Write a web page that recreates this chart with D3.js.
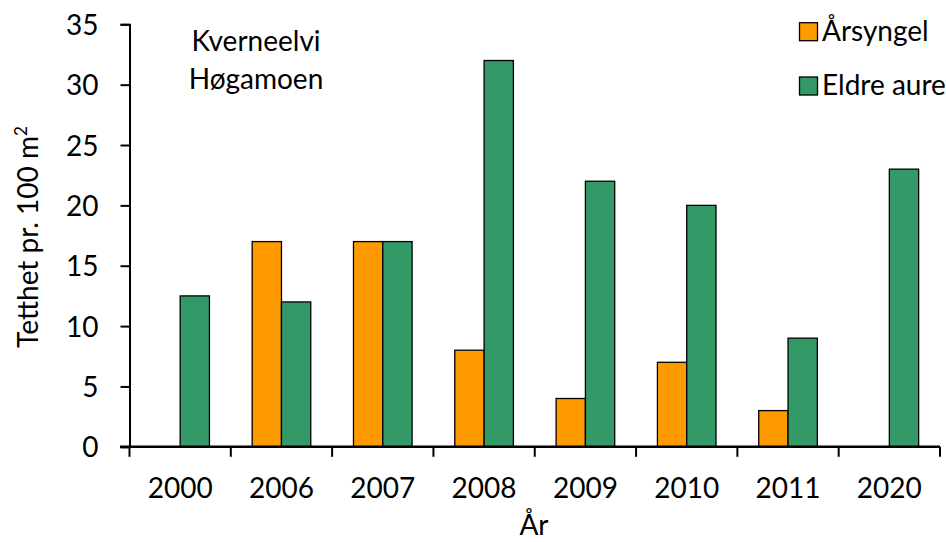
<!DOCTYPE html>
<html><head><meta charset="utf-8">
<script src="https://cdn.jsdelivr.net/npm/d3@7"></script>
<style>
body{margin:0;background:#fff;}
svg{display:block;font-family:Lato,"Open Sans",sans-serif;}
</style></head>
<body><svg id="c" width="946" height="542"></svg>
<script>
const years = ["2000","2006","2007","2008","2009","2010","2011","2020"];
const arsyngel = [null,17,17,8,4,7,3,null];
const eldreAure = [12.5,12,17,32,22,20,9,23];
const seriesNames = ["Årsyngel","Eldre aure"];
const seriesColors = ["#FF9900","#339966"];
const yTicks = [0,5,10,15,20,25,30,35];

const FS = 28;
const svg = d3.select("#c");
const m = {left:129.5, right:940, top:24.3, bottom:446.8};
const x = d3.scaleBand().domain(years).range([m.left,m.right]).paddingInner(0).paddingOuter(0);
const y = d3.scaleLinear().domain([0,35]).range([m.bottom,m.top]);
const barW = 29.3;

const series = [arsyngel, eldreAure];
series.forEach((vals,si)=>{
  svg.append("g").selectAll("rect").data(years.map((yr,i)=>({yr,v:vals[i]})).filter(d=>d.v!=null))
    .join("rect")
    .attr("x",d=>x(d.yr)+x.bandwidth()/2 + (si===0?-barW:0))
    .attr("width",barW)
    .attr("y",d=>y(d.v))
    .attr("height",d=>y(0)-y(d.v))
    .attr("fill",seriesColors[si])
    .attr("stroke","#000").attr("stroke-width",1.3);
});

// Y axis
const ya = svg.append("g").attr("transform",`translate(${m.left},0)`)
  .call(d3.axisLeft(y).tickValues(yTicks).tickSize(9).tickPadding(22));
ya.select(".domain").attr("stroke","#000").attr("stroke-width",2);
ya.selectAll(".tick line").attr("stroke","#000").attr("stroke-width",2);
ya.selectAll("text").attr("font-size",FS).attr("fill","#000").attr("font-family","Lato,'Open Sans',sans-serif").attr("dy","0.36em");

// X axis
const xa = svg.append("g").attr("transform",`translate(0,${m.bottom})`)
  .call(d3.axisBottom(x).tickSize(0).tickPadding(0));
xa.select(".domain").remove();
xa.selectAll(".tick line").remove();
xa.selectAll("text").attr("font-size",FS).attr("fill","#000").attr("font-family","Lato,'Open Sans',sans-serif").attr("y",51).attr("dy",0);
svg.append("line").attr("x1",m.left-9.5).attr("x2",m.right).attr("y1",m.bottom).attr("y2",m.bottom).attr("stroke","#000").attr("stroke-width",2.5);
const bounds = years.map(yr=>x(yr)).concat([m.right]);
svg.append("g").selectAll("line").data(bounds).join("line")
  .attr("x1",d=>d).attr("x2",d=>d).attr("y1",m.bottom).attr("y2",m.bottom+10)
  .attr("stroke","#000").attr("stroke-width",2);

// axis titles
svg.append("text").attr("x",534).attr("y",535).attr("text-anchor","middle").attr("font-size",FS).text("År");
const yl = svg.append("text").attr("transform","translate(38,237) rotate(-90)").attr("text-anchor","middle").attr("font-size",FS);
yl.append("tspan").text("Tetthet pr. 100 m");
yl.append("tspan").attr("font-size",17).attr("dy",-11).text("2");

// annotation
svg.append("text").attr("x",256).attr("y",51).attr("text-anchor","middle").attr("font-size",FS).text("Kverneelvi");
svg.append("text").attr("x",256).attr("y",89).attr("text-anchor","middle").attr("font-size",FS).text("Høgamoen");

// legend
const lg = svg.append("g");
seriesNames.forEach((n,i)=>{
  const yy = 22.7 + i*54.3;
  lg.append("rect").attr("x",799.5).attr("y",yy).attr("width",18).attr("height",18)
    .attr("fill",seriesColors[i]).attr("stroke","#000").attr("stroke-width",1.3);
  lg.append("text").attr("x",822).attr("y",yy+18).attr("font-size",FS).text(n);
});
</script></body></html>
